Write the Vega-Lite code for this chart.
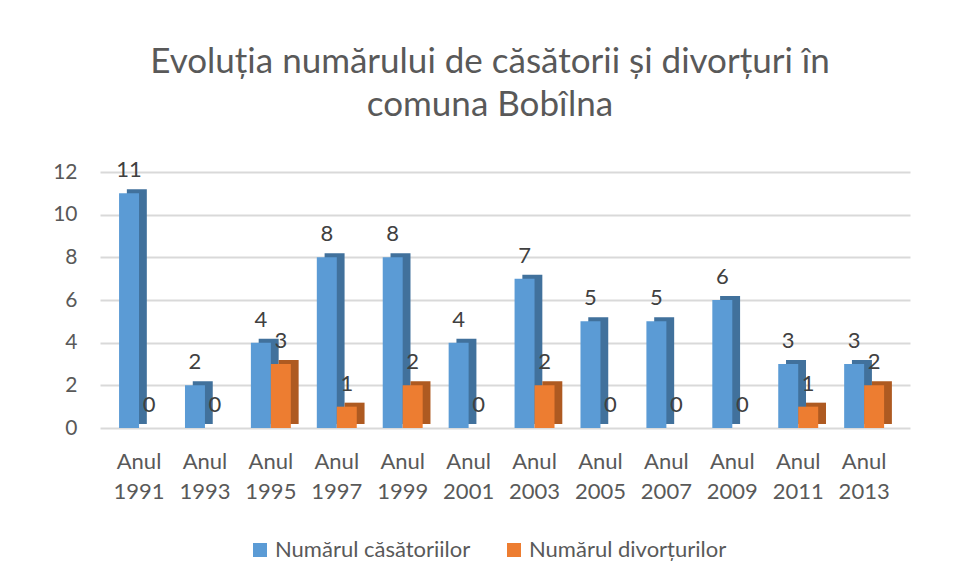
{
  "$schema": "https://vega.github.io/schema/vega-lite/v6.json",
  "autosize": {"type": "none"},
  "width": 810,
  "height": 256,
  "padding": {"left": 100, "top": 172, "right": 44, "bottom": 154},
  "background": "#ffffff",
  "title": {
    "text": ["Evoluția numărului de căsătorii și divorțuri în", "comuna Bobîlna"],
    "fontSize": 35,
    "font": "Lato",
    "fontWeight": "normal",
    "color": "#595959",
    "anchor": "middle",
    "frame": "group",
    "lineHeight": 43,
    "dx": -15,
    "offset": 36
  },
  "config": {
    "view": {"stroke": null},
    "font": "Lato"
  },
  "data": {
    "values": [
      {"year": "Anul 1991", "series": "Numărul căsătoriilor", "value": 11},
      {"year": "Anul 1991", "series": "Numărul divorțurilor", "value": 0},
      {"year": "Anul 1993", "series": "Numărul căsătoriilor", "value": 2},
      {"year": "Anul 1993", "series": "Numărul divorțurilor", "value": 0},
      {"year": "Anul 1995", "series": "Numărul căsătoriilor", "value": 4},
      {"year": "Anul 1995", "series": "Numărul divorțurilor", "value": 3},
      {"year": "Anul 1997", "series": "Numărul căsătoriilor", "value": 8},
      {"year": "Anul 1997", "series": "Numărul divorțurilor", "value": 1},
      {"year": "Anul 1999", "series": "Numărul căsătoriilor", "value": 8},
      {"year": "Anul 1999", "series": "Numărul divorțurilor", "value": 2},
      {"year": "Anul 2001", "series": "Numărul căsătoriilor", "value": 4},
      {"year": "Anul 2001", "series": "Numărul divorțurilor", "value": 0},
      {"year": "Anul 2003", "series": "Numărul căsătoriilor", "value": 7},
      {"year": "Anul 2003", "series": "Numărul divorțurilor", "value": 2},
      {"year": "Anul 2005", "series": "Numărul căsătoriilor", "value": 5},
      {"year": "Anul 2005", "series": "Numărul divorțurilor", "value": 0},
      {"year": "Anul 2007", "series": "Numărul căsătoriilor", "value": 5},
      {"year": "Anul 2007", "series": "Numărul divorțurilor", "value": 0},
      {"year": "Anul 2009", "series": "Numărul căsătoriilor", "value": 6},
      {"year": "Anul 2009", "series": "Numărul divorțurilor", "value": 0},
      {"year": "Anul 2011", "series": "Numărul căsătoriilor", "value": 3},
      {"year": "Anul 2011", "series": "Numărul divorțurilor", "value": 1},
      {"year": "Anul 2013", "series": "Numărul căsătoriilor", "value": 3},
      {"year": "Anul 2013", "series": "Numărul divorțurilor", "value": 2}
    ]
  },
  "encoding": {
    "x": {
      "field": "year",
      "type": "nominal",
      "sort": null,
      "scale": {"paddingInner": 0, "paddingOuter": 0.144, "align": 0.32},
      "axis": {
        "title": null,
        "labelAngle": 0,
        "labelExpr": "split(datum.label, ' ')",
        "labelFontSize": 22,
        "labelColor": "#595959",
        "labelLineHeight": 30,
        "labelPadding": 23,
        "domain": false,
        "ticks": false,
        "grid": false
      }
    },
    "y": {
      "field": "value",
      "type": "quantitative",
      "scale": {"domain": [0, 12], "nice": false},
      "axis": {
        "title": null,
        "values": [0, 2, 4, 6, 8, 10, 12],
        "labelFontSize": 21,
        "labelColor": "#595959",
        "labelPadding": 23,
        "domain": false,
        "ticks": false,
        "gridColor": "#D9D9D9",
        "gridWidth": 2
      }
    }
  },
  "layer": [
    {
      "mark": {"type": "bar", "yOffset": -4, "y2Offset": -4},
      "encoding": {
        "xOffset": {
          "field": "series",
          "type": "nominal",
          "sort": null,
          "scale": {"paddingInner": 0, "paddingOuter": 0.65, "align": 0.8}
        },
        "color": {
          "field": "series",
          "type": "nominal",
          "sort": null,
          "scale": {"range": ["#41719C", "#AE5A21"]},
          "legend": null
        }
      }
    },
    {
      "layer": [
        {
          "mark": {"type": "bar"},
          "encoding": {
            "color": {
              "field": "series",
              "type": "nominal",
              "sort": null,
              "scale": {"range": ["#5B9BD5", "#ED7D31"]},
              "legend": {
                "title": null,
                "orient": "none",
                "direction": "horizontal",
                "legendX": 149,
                "legendY": 367,
                "symbolType": "square",
                "symbolSize": 196,
                "symbolStrokeWidth": 0,
                "labelFontSize": 22,
                "labelColor": "#595959",
                "labelLimit": 0,
                "columnPadding": 32,
                "labelOffset": 4
              }
            }
          }
        },
        {
          "mark": {"type": "text", "fontSize": 22, "color": "#404040", "baseline": "middle", "dy": -23},
          "encoding": {
            "text": {"field": "value", "type": "quantitative"}
          }
        }
      ],
      "encoding": {
        "xOffset": {
          "field": "series",
          "type": "nominal",
          "sort": null,
          "scale": {"paddingInner": 0, "paddingOuter": 0.65}
        }
      }
    }
  ],
  "resolve": {"scale": {"color": "independent", "xOffset": "independent"}}
}
